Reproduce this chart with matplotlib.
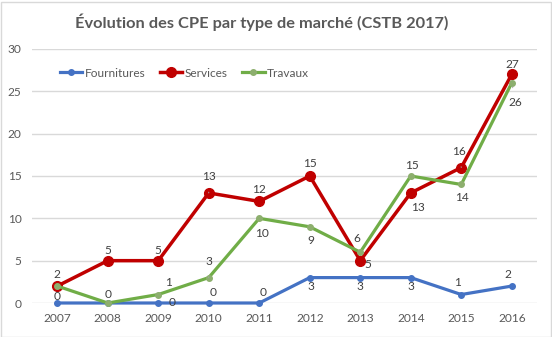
import matplotlib
matplotlib.use("Agg")
import matplotlib.pyplot as plt
import numpy as np
from matplotlib.patches import Rectangle

plt.rcParams["font.family"] = ["Lato", "DejaVu Sans"]

years = ["2007", "2008", "2009", "2010", "2011", "2012", "2013", "2014", "2015", "2016"]
fournitures = [0, 0, 0, 0, 0, 3, 3, 3, 1, 2]
services = [2, 5, 5, 13, 12, 15, 5, 13, 16, 27]
travaux = [2, 0, 1, 3, 10, 9, 6, 15, 14, 26]

# label offsets in pixels (dx, dy up), None = label hidden, flag = leader line
f_offsets = [(0, 6), (0, 8), (14, 0), (4, 10), (4, 10), (1, -9), (0, -9), (0, -9), (-4, 12), (-4, 12)]
s_offsets = [(0, 12), (0, 10), (0, 10), (0, 16, True), (0, 12), (0, 12), (8, -4), (7, -15), (-2, 16, True), (1, 10)]
t_offsets = [None, None, (10, 12), (0, 16, True), (3, -15), (1, -14), (-3, 14), (1, 10), (1, -13), (4, -20, True)]

fig = plt.figure(figsize=(5.52, 3.37), dpi=100)
ax = fig.add_axes([32 / 552, 1 - 303 / 337, 505 / 552, 254 / 337])

x = np.arange(len(years))
ax.plot(x, fournitures, color="#4472C4", lw=2.3, marker="o", ms=4,
        mfc="#4472C4", mec="#4472C4", label="Fournitures", zorder=3, clip_on=False)
ax.plot(x, services, color="#C00000", lw=2.5, marker="o", ms=7,
        mfc="#C00000", mec="#C00000", label="Services", zorder=4, clip_on=False)
ax.plot(x, travaux, color="#70AD47", lw=2.3, marker="o", ms=4,
        mfc="#8DAF6E", mec="#8DAF6E", label="Travaux", zorder=5, clip_on=False)


def add_labels(values, offsets):
    for i, (v, off) in enumerate(zip(values, offsets)):
        if off is None:
            continue
        dx, dy = off[0], off[1]
        leader = len(off) > 2
        ax.annotate(
            str(v), (i, v),
            xytext=(dx * 0.72, dy * 0.72), textcoords="offset points",
            ha="center", va="center", fontsize=8.6, color="#404040", zorder=6,
            arrowprops=dict(arrowstyle="-", color="#A6A6A6", lw=0.7,
                            shrinkA=5, shrinkB=3) if leader else None,
        )


add_labels(fournitures, f_offsets)
add_labels(services, s_offsets)
add_labels(travaux, t_offsets)

ax.set_xlim(-0.5, len(years) - 0.5)
ax.set_ylim(0, 30)
ax.set_yticks(np.arange(0, 31, 5))
ax.set_xticks(x)
ax.set_xticklabels(years)
ax.grid(axis="y", color="#D9D9D9", lw=1)
ax.set_axisbelow(True)
for s in ax.spines.values():
    s.set_visible(False)
ax.tick_params(length=0, labelsize=8.6, colors="#595959", pad=7)
ax.tick_params(axis="y", pad=7.5)

leg = ax.legend(loc="center left", bbox_to_anchor=(0.045, 0.905), ncol=3,
                frameon=False, fontsize=8.6, handlelength=1.9,
                handletextpad=0.2, columnspacing=1.2, borderaxespad=0)
for t in leg.get_texts():
    t.set_color("#595959")

fig.text(262 / 552, 1 - 22 / 337, "Évolution des CPE par type de marché (CSTB 2017)",
         ha="center", va="center", fontsize=11.8, fontweight="bold", color="#595959")

fig.patches.append(Rectangle((0.5 / 552, 0.5 / 337), 550 / 552, 335 / 337,
                             transform=fig.transFigure, fill=False,
                             edgecolor="#D9D9D9", lw=1))

fig.savefig("out.png", dpi=100)
